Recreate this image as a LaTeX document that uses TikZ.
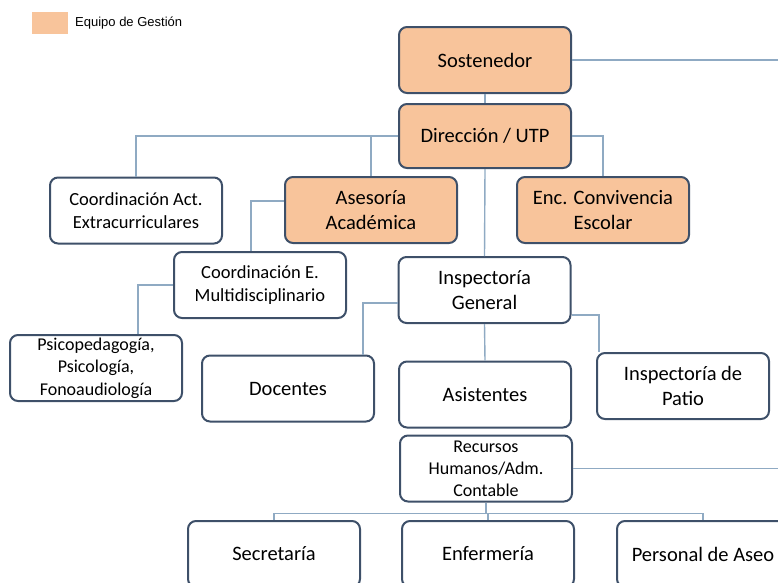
\documentclass[tikz,border=0pt]{standalone}
\usepackage{fontspec}
\setmainfont{Carlito}
\newfontfamily\legendfont{Liberation Sans}
\usetikzlibrary{calc}
\definecolor{borde}{HTML}{3E5069}
\definecolor{naranja}{HTML}{F8C49B}
\definecolor{enlace}{HTML}{8FAAC3}
\tikzset{
	cargo/.style={draw=borde, line width=2pt, rounded corners=8pt, fill=white, align=center,
		minimum width=172pt, minimum height=66pt, inner sep=0pt, font=\fontsize{20.5}{25}\selectfont},
	gestion/.style={cargo, fill=naranja},
	mediano/.style={font=\fontsize{18.5}{23}\selectfont},
	linea/.style={draw=enlace, line width=1.4pt},
}

\begin{document}
\begin{tikzpicture}[x=1pt, y=-1pt]
			%%%%% START %%%%%
			
			\useasboundingbox (0,0) rectangle (778,582);
			\clip (0,0) rectangle (778,582);
			\coordinate (fin) at (800,0);
			
			\node[fill=naranja, minimum width=36pt, minimum height=22pt, inner sep=0pt] (muestra) at (50,23) {};
			\node[anchor=west, inner sep=0pt, font=\legendfont\fontsize{13}{15}\selectfont] (leyenda) at (75,23) {Equipo de Gestión};
			
			\node[gestion] (sost) at (485,60) {Sostenedor};
			\node[gestion, minimum height=64pt] (dir) at (485,136) {Dirección / UTP};
			
			\node[cargo, mediano] (coordact) at (136,210.5) {Coordinación Act.\\Extracurriculares};
			\node[gestion] (aseso) at (371,210) {Asesoría\\Académica};
			\node[gestion] (conviv) at (603,210) {Enc. Convivencia\\Escolar};
			
			\node[cargo] (inspgen) at (484.5,290) {Inspectoría\\General};
			\node[cargo, mediano] (coorde) at (260,285) {Coordinación E.\\Multidisciplinario};
			\node[cargo, font=\fontsize{18}{22.5}\selectfont] (psico) at (96,368) {Psicopedagogía,\\Psicología,\\Fonoaudiología};
			
			\node[cargo] (docen) at (288,388.5) {Docentes};
			\node[cargo] (asist) at (485,394.5) {Asistentes};
			\node[cargo] (patio) at (683,386) {Inspectoría de\\Patio};
			
			\node[cargo, font=\fontsize{18}{22}\selectfont] (rrhh) at (486,468.5) {Recursos\\Humanos/Adm.\\Contable};
			\node[cargo] (secre) at (274,554) {Secretaría};
			\node[cargo] (enfer) at (488,554) {Enfermería};
			\node[cargo] (aseo) at (703,554) {Personal de Aseo};
			
			\draw[linea] (sost.south) -- (dir.north);
			\draw[linea] (sost.east) -- (sost.east -| fin);
			\draw[linea] (dir.west) -| (coordact.north);
			\draw[linea] (dir.west) -| (aseso.north);
			\draw[linea] (dir.east) -| (conviv.north);
			\draw[linea] (dir.south) -- (inspgen.north);
			
			\draw[linea] ([yshift=9pt]aseso.west) -| ([xshift=-9pt]coorde.north);
			\draw[linea] (coorde.west) -| ([xshift=42pt]psico.north);
			
			\draw[linea] ([yshift=-13pt]inspgen.west) -| ([xshift=75pt]docen.north);
			\draw[linea] ([yshift=-25pt]inspgen.east) -| ([xshift=3pt]patio.north west);
			\draw[linea] (inspgen.south) -- (asist.north);
			
			\draw[linea] (rrhh.east) -- (rrhh.east -| fin);
			\coordinate (reparto) at ($(rrhh.south)+(0,11)$);
			\draw[linea] (rrhh.south) -- (reparto) -| (secre.north);
			\draw[linea] (reparto) -| (enfer.north);
			\draw[linea] (reparto) -| (aseo.north);
			
			%%%%% END %%%%%
\end{tikzpicture}
\end{document}
